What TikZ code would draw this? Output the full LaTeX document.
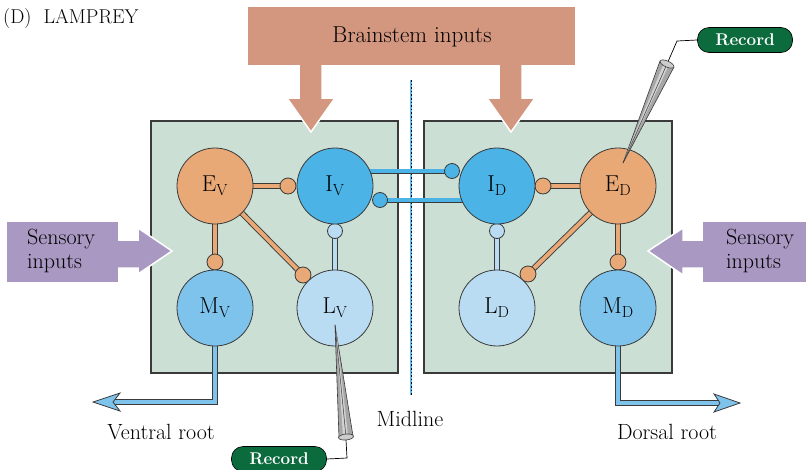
\documentclass[tikz,border=0pt]{standalone}
\usepackage{fontspec}
\definecolor{outl}{HTML}{3A3A3A}
\definecolor{boxc}{HTML}{CCDFD4}
\definecolor{orn}{HTML}{E8A977}
\definecolor{iblue}{HTML}{4BB3E6}
\definecolor{mblue}{HTML}{7EC3EC}
\definecolor{lblue}{HTML}{BADCF3}
\definecolor{salmon}{HTML}{D3967F}
\definecolor{purp}{HTML}{A898C2}
\definecolor{grn}{HTML}{0B6B3C}
\definecolor{mid}{HTML}{5BBDEB}
\begin{document}
\begin{tikzpicture}[x=1pt,y=-1pt,
  neuron/.style={circle,draw=outl,line width=0.8pt,minimum size=76pt,inner sep=0pt,font=\fontsize{23}{26}\selectfont},
  panel/.style={fill=boxc,draw=outl,line width=1.2pt},
  bigarrow/.style={draw=white,line width=1.5pt,line join=miter},
  obar/.style={draw=outl,line width=0.9pt,double=orn,double distance=4pt},
  ibar/.style={draw=outl,line width=0.8pt,double=iblue,double distance=3.4pt},
  lbar/.style={draw=outl,line width=0.8pt,double=lblue,double distance=3.6pt},
  rootline/.style={draw=outl,line width=0.9pt,double=mblue,double distance=3.6pt,line join=miter},
  syn/.style={draw=outl,line width=0.8pt},
  pill/.style={fill=grn,draw=black,line width=0.6pt,rounded corners=11.5pt,minimum width=95pt,minimum height=25pt,text=white,font=\bfseries\fontsize{17}{19}\selectfont,inner sep=0pt},
  lbl/.style={font=\fontsize{22}{24}\selectfont,align=center,inner sep=0pt},
  wire/.style={draw=black,line width=0.7pt}
]
\useasboundingbox (0,0) rectangle (806,469);

% title
\node[anchor=west,font=\fontsize{20}{22}\selectfont,inner sep=0pt] (title) at (3,19) {(D)\ \ LAMPREY};

% panels
\draw[panel] (151,121) rectangle (398,373);
\draw[panel] (424,121) rectangle (672,373);

% brainstem inputs
\fill[salmon,bigarrow] (299,60) -- (299,98) -- (287,98) -- (311,132) -- (335,98) -- (322,98) -- (322,60) -- cycle;
\fill[salmon,bigarrow] (499,60) -- (499,98) -- (487,98) -- (511,132) -- (535,98) -- (522,98) -- (522,60) -- cycle;
\fill[salmon] (248,7) rectangle (575,65);
\node[lbl,font=\fontsize{23}{26}\selectfont] (brain) at (412,37) {Brainstem inputs};

% sensory inputs
\fill[purp,bigarrow] (110,240) -- (138,240) -- (138,228) -- (172,251) -- (138,274) -- (138,268) -- (110,268) -- cycle;
\fill[purp] (7,222) rectangle (118,282);
\node[lbl,align=left,anchor=west] (sensL) at (27,251) {Sensory\\inputs};
\fill[purp,bigarrow] (711,240) -- (683,240) -- (683,228) -- (648,251) -- (683,275) -- (683,268) -- (711,268) -- cycle;
\fill[purp] (703,222) rectangle (806,282);
\node[lbl,align=left,anchor=west] (sensR) at (726,251) {Sensory\\inputs};

% midline
\coordinate (mtop) at (411,80);
\coordinate (mbot) at (411,395);
\draw[mid,line width=1.3pt] (mtop) -- (mbot);
\draw[black,line width=0.6pt,dash pattern=on 1.6pt off 2pt] (mtop) -- (mbot);
\node[lbl] (midl) at (410,419) {Midline};

% neuron positions (coordinates)
\coordinate (cEV) at (215,186);
\coordinate (cIV) at (335,186);
\coordinate (cMV) at (215,308);
\coordinate (cLV) at (335,308);
\coordinate (cID) at (497,186);
\coordinate (cED) at (618,186);
\coordinate (cLD) at (497,308);
\coordinate (cMD) at (618,308);

% synapse points
\coordinate (dEVI) at (288,186);
\coordinate (dEVM) at (215,262);
\coordinate (dEVL) at (303,275);
\coordinate (dLVI) at (335,231);
\coordinate (dIVD) at (452,171);
\coordinate (dIDV) at (380,200);
\coordinate (dEDI) at (543,186);
\coordinate (dEDM) at (618,262);
\coordinate (dEDL) at (528,274);
\coordinate (dLDI) at (497,231);
\coordinate (sIV) at (335,171);
\coordinate (sID) at (497,200);

% roots
\coordinate (vcorner) at (215,402);
\coordinate (vend) at (112,402);
\coordinate (dcorner) at (618,403);
\coordinate (dend) at (722,403);
\draw[rootline] (cMV) -- (vcorner) -- (vend);
\draw[rootline] (cMD) -- (dcorner) -- (dend);
\filldraw[fill=mblue,draw=outl,line width=0.8pt,line join=miter] (93,402) -- (120,393) -- (113,402) -- (120,411) -- cycle;
\filldraw[fill=mblue,draw=outl,line width=0.8pt,line join=miter] (740,403) -- (714,394) -- (720,403) -- (714,412) -- cycle;
\node[lbl] (vroot) at (161,432) {Ventral root};
\node[lbl] (droot) at (667,432) {Dorsal root};

% bars
\draw[obar] (cEV) -- (dEVI);
\draw[obar] (cEV) -- (dEVM);
\draw[obar] (cEV) -- (dEVL);
\draw[obar] (cED) -- (dEDI);
\draw[obar] (cED) -- (dEDM);
\draw[obar] (cED) -- (dEDL);
\draw[lbar] (cLV) -- (dLVI);
\draw[lbar] (cLD) -- (dLDI);
\draw[ibar] (sIV) -- (dIVD);
\draw[ibar] (sID) -- (dIDV);

% synapse dots
\filldraw[syn,fill=orn] (dEVI) circle (8pt);
\filldraw[syn,fill=orn] (dEVM) circle (8pt);
\filldraw[syn,fill=orn] (dEVL) circle (8pt);
\filldraw[syn,fill=orn] (dEDI) circle (8pt);
\filldraw[syn,fill=orn] (dEDM) circle (8pt);
\filldraw[syn,fill=orn] (dEDL) circle (8pt);
\filldraw[syn,fill=lblue] (dLVI) circle (7.5pt);
\filldraw[syn,fill=lblue] (dLDI) circle (7.5pt);
\filldraw[syn,fill=iblue] (dIVD) circle (7.5pt);
\filldraw[syn,fill=iblue] (dIDV) circle (7.5pt);

% neurons
\node[neuron,fill=orn] (EV) at (cEV) {E$_{\mathrm{V}}$};
\node[neuron,fill=iblue] (IV) at (cIV) {I$_{\mathrm{V}}$};
\node[neuron,fill=mblue] (MV) at (cMV) {M$_{\mathrm{V}}$};
\node[neuron,fill=lblue] (LV) at (cLV) {L$_{\mathrm{V}}$};
\node[neuron,fill=iblue] (ID) at (cID) {I$_{\mathrm{D}}$};
\node[neuron,fill=orn] (ED) at (cED) {E$_{\mathrm{D}}$};
\node[neuron,fill=lblue] (LD) at (cLD) {L$_{\mathrm{D}}$};
\node[neuron,fill=mblue] (MD) at (cMD) {M$_{\mathrm{D}}$};

% top-right electrode
\node[pill] (rec1) at (745,40) {Record};
\coordinate (e1top) at (667,64);
\coordinate (e1bend) at (677,41);
\draw[wire] (e1top) -- (e1bend) -- (rec1.west);
\filldraw[fill=gray!70,draw=outl,line width=0.6pt,line join=round] (674,67) -- (623,163) -- (660,61) -- cycle;
\fill[gray!35] (669,65) -- (624,160) -- (664,63) -- cycle;
\draw[outl,line width=0.5pt] (667,64) -- (623,163);
\filldraw[fill=gray!40,draw=outl,line width=0.6pt,shift={(667,64)},rotate=-24] (0,0) ellipse (7.5pt and 3pt);

% bottom electrode
\node[pill] (rec2) at (279,459) {Record};
\coordinate (e2bot) at (346,440);
\coordinate (e2bend) at (347,458);
\draw[wire] (e2bot) -- (e2bend) -- (rec2.east);
\filldraw[fill=gray!70,draw=outl,line width=0.6pt,line join=round] (353,436) -- (335,325) -- (339,438) -- cycle;
\fill[gray!35] (348,436) -- (336,328) -- (343,437) -- cycle;
\draw[outl,line width=0.5pt] (346,437) -- (335,325);
\filldraw[fill=gray!40,draw=outl,line width=0.6pt,shift={(346,437)},rotate=5.6] (0,0) ellipse (7.5pt and 3pt);
\end{tikzpicture}
\end{document}
